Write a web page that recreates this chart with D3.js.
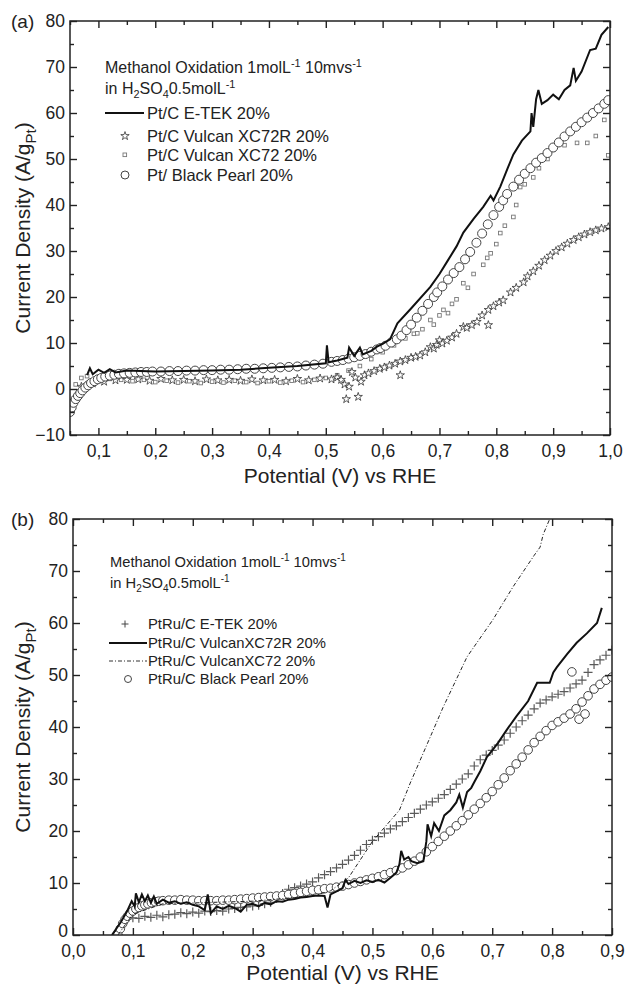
<!DOCTYPE html>
<html><head><meta charset="utf-8">
<script src="https://cdn.jsdelivr.net/npm/d3@7"></script>
<style>
body{margin:0;background:#fff;}
svg{font-family:"Liberation Sans",Arial,sans-serif;}
</style></head>
<body><svg id="c" width="628" height="986"></svg>
<script>
// ---------- Panel (a) data ----------
const aXTicks = [0.1,0.2,0.3,0.4,0.5,0.6,0.7,0.8,0.9,1.0];
const aYTicks = [-10,0,10,20,30,40,50,60,70,80];
const aLegend = ["Pt/C E-TEK 20%","Pt/C Vulcan XC72R 20%","Pt/C Vulcan XC72 20%","Pt/ Black Pearl 20%"];
const aEtekX = [0.08,0.085,0.09,0.10,0.11,0.12,0.13,0.15,0.2,0.25,0.3,0.35,0.4,0.45,0.5,0.502,0.505,0.52,0.538,0.541,0.55,0.56,0.565,0.58,0.59,0.6,0.613,0.626,0.65,0.684,0.7,0.714,0.73,0.742,0.76,0.777,0.79,0.795,0.807,0.82,0.83,0.845,0.86,0.862,0.865,0.87,0.874,0.88,0.89,0.9,0.91,0.92,0.93,0.936,0.94,0.95,0.965,0.975,0.985,0.997];
const aEtekY = [3.0,4.5,3.2,4.2,3.5,4.3,3.6,4.0,3.8,3.9,4.0,4.2,4.6,5.0,5.6,9.5,5.8,6.2,6.8,9.0,7.2,9.0,7.5,8.3,9.2,9.8,10.8,14.3,17.5,22.2,25.0,27.8,31.0,34.0,37.0,39.6,42.0,41.0,44.0,48.0,51.0,54.0,56.0,60.0,57.0,63.0,65.0,62.0,62.8,64.0,63.0,65.0,66.0,69.8,67.0,69.0,73.7,74.0,77.0,78.7];
const aXC72RX = [0.07,0.09,0.11,0.13,0.15,0.17,0.19,0.21,0.23,0.25,0.27,0.29,0.31,0.33,0.35,0.37,0.39,0.41,0.43,0.45,0.47,0.49,0.51,0.52,0.527,0.533,0.536,0.541,0.546,0.552,0.557,0.562,0.568,0.575,0.585,0.595,0.603,0.612,0.622,0.631,0.631,0.64,0.65,0.658,0.666,0.675,0.684,0.69,0.695,0.70,0.705,0.713,0.722,0.73,0.742,0.748,0.757,0.766,0.775,0.786,0.786,0.795,0.805,0.812,0.825,0.835,0.848,0.855,0.865,0.875,0.885,0.895,0.905,0.915,0.925,0.936,0.945,0.955,0.965,0.975,0.985,0.997];
const aXC72RY = [0.5,1.2,1.6,1.9,2.0,2.1,1.8,2.2,1.9,2.0,1.7,2.1,1.9,2.0,1.8,2.1,1.9,2.0,1.7,2.2,1.9,2.3,2.1,2.5,2.0,1.0,-2.2,0.5,3.7,2.5,-1.7,1.6,3.0,3.4,3.9,4.4,4.7,5.1,5.5,6.0,3.0,6.3,6.8,7.0,7.3,8.0,9.1,8.8,9.6,10.6,9.9,10.5,11.2,12.0,13.5,13.3,13.9,14.6,16.0,17.2,13.9,18.0,18.8,19.3,21.0,22.0,23.2,24.5,25.6,26.8,28.0,29.0,30.0,30.8,31.6,32.4,33.0,33.6,34.1,34.5,34.9,35.2];
const aXC72X = [0.06,0.07,0.08,0.1,0.12,0.14,0.16,0.18,0.2,0.22,0.24,0.26,0.28,0.3,0.32,0.34,0.36,0.38,0.4,0.42,0.44,0.46,0.48,0.5,0.52,0.54,0.56,0.58,0.6,0.62,0.64,0.655,0.661,0.67,0.684,0.69,0.70,0.707,0.715,0.722,0.73,0.742,0.75,0.76,0.777,0.784,0.79,0.8,0.807,0.815,0.83,0.835,0.842,0.85,0.865,0.875,0.89,0.9,0.92,0.942,0.96,0.975,0.99,0.997];
const aXC72Y = [1.0,2.4,2.8,2.6,2.2,2.0,1.7,2.0,1.5,1.8,1.4,1.7,1.3,1.6,1.4,1.8,1.5,1.3,1.7,1.4,1.8,1.5,2.0,2.4,3.0,4.0,5.0,6.5,8.0,9.5,11.0,12.0,12.1,13.0,15.0,14.0,16.0,17.2,16.5,18.5,19.5,23.0,22.0,25.0,27.0,28.5,29.5,31.5,33.9,35.5,37.4,40.0,43.9,44.5,46.0,48.0,50.0,52.0,53.0,53.5,53.5,55.0,58.5,50.8];
const aBPX = [0.050,0.053,0.056,0.060,0.064,0.068,0.072,0.077,0.082,0.087,0.093,0.099,0.105,0.112,0.12,0.128,0.136,0.145,0.155,0.165,0.175,0.185,0.195,0.21,0.225,0.24,0.255,0.27,0.285,0.3,0.315,0.33,0.345,0.36,0.375,0.39,0.405,0.42,0.435,0.45,0.465,0.48,0.495,0.51,0.52,0.53,0.54,0.55,0.56,0.57,0.58,0.59,0.596,0.605,0.615,0.625,0.633,0.642,0.65,0.66,0.67,0.68,0.69,0.696,0.705,0.715,0.725,0.735,0.745,0.754,0.765,0.775,0.785,0.795,0.805,0.812,0.819,0.83,0.84,0.85,0.86,0.87,0.88,0.89,0.9,0.91,0.92,0.93,0.94,0.95,0.96,0.97,0.98,0.99,0.997];
const aBPY = [-5.0,-4.0,-3.0,-2.2,-1.5,-0.9,-0.3,0.3,0.8,1.3,1.7,2.1,2.4,2.7,2.9,3.1,3.3,3.4,3.5,3.6,3.7,3.7,3.8,3.8,3.9,3.9,4.0,4.0,4.1,4.1,4.2,4.2,4.3,4.4,4.4,4.5,4.6,4.7,4.8,4.9,5.1,5.3,5.5,5.9,6.1,6.3,6.6,6.9,7.2,7.6,8.1,8.6,8.9,9.4,10.1,10.8,11.6,12.8,14.0,15.5,17.0,18.5,20.0,21.0,22.3,23.8,25.2,26.5,28.2,29.8,31.8,33.8,35.8,37.8,39.6,41.0,42.4,44.0,45.5,46.8,48.0,49.2,50.2,51.3,52.5,53.6,54.9,56.0,57.0,58.0,59.0,60.0,61.0,62.0,62.8];

// ---------- Panel (b) data ----------
const bXTicks = [0.0,0.1,0.2,0.3,0.4,0.5,0.6,0.7,0.8,0.9];
const bYTicks = [0,10,20,30,40,50,60,70,80];
const bLegend = ["PtRu/C E-TEK 20%","PtRu/C VulcanXC72R 20%","PtRu/C VulcanXC72 20%","PtRu/C Black Pearl 20%"];
const bEtekX = [0.09,0.1,0.11,0.12,0.13,0.14,0.15,0.16,0.17,0.18,0.19,0.2,0.21,0.22,0.23,0.24,0.25,0.26,0.27,0.28,0.29,0.3,0.31,0.32,0.33,0.34,0.35,0.36,0.37,0.38,0.39,0.4,0.41,0.42,0.43,0.44,0.45,0.46,0.47,0.48,0.49,0.5,0.51,0.52,0.53,0.54,0.55,0.56,0.57,0.58,0.59,0.6,0.61,0.62,0.63,0.64,0.65,0.66,0.67,0.68,0.69,0.7,0.71,0.72,0.73,0.74,0.75,0.76,0.77,0.78,0.79,0.8,0.81,0.82,0.83,0.84,0.85,0.86,0.87,0.88,0.89,0.9];
const bEtekY = [3.0,3.3,3.2,3.6,3.4,3.8,3.5,3.9,4.0,4.3,4.1,4.4,4.2,4.6,4.5,4.7,4.6,5.0,5.1,5.3,5.4,5.6,5.7,6.0,6.3,7.0,8.0,8.8,9.1,9.4,9.8,10.2,11.0,11.6,12.2,12.9,13.6,14.4,15.3,16.3,17.4,18.2,18.9,19.6,20.4,21.0,21.8,22.6,23.4,24.2,25.0,25.6,26.3,27.0,28.0,29.0,30.0,31.0,32.5,33.7,34.6,35.5,36.5,37.5,38.8,40.0,41.2,42.3,43.5,44.6,45.2,45.8,46.3,46.8,47.5,48.3,49.0,50.5,52.0,52.9,53.8,54.8];
const bXC72RX = [0.065,0.08,0.09,0.098,0.103,0.105,0.11,0.115,0.12,0.125,0.13,0.135,0.14,0.15,0.16,0.17,0.18,0.19,0.2,0.21,0.22,0.225,0.23,0.24,0.25,0.26,0.27,0.28,0.29,0.3,0.31,0.32,0.33,0.34,0.35,0.36,0.37,0.38,0.39,0.4,0.41,0.42,0.425,0.43,0.44,0.45,0.455,0.46,0.47,0.48,0.49,0.5,0.51,0.52,0.53,0.54,0.545,0.548,0.553,0.56,0.565,0.575,0.585,0.59,0.592,0.598,0.603,0.611,0.62,0.63,0.64,0.645,0.651,0.658,0.665,0.671,0.68,0.691,0.7,0.71,0.724,0.74,0.76,0.775,0.796,0.802,0.808,0.825,0.841,0.858,0.875,0.883];
const bXC72RY = [0,2.5,4.5,6.5,5.5,8.0,6.3,7.8,6.5,7.6,6.2,7.4,6.0,6.8,6.2,6.5,6.0,6.3,5.8,5.5,4.8,7.8,4.2,5.5,5.0,5.6,5.2,4.5,5.8,6.0,5.5,6.2,5.9,6.5,6.4,6.8,6.9,7.2,7.3,7.5,7.6,7.5,5.3,7.8,8.4,9.0,10.6,9.8,10.4,10.0,10.5,10.2,10.6,10.1,11.0,12.0,13.6,16.2,14.5,15.0,14.2,13.8,14.2,18.0,21.3,19.0,21.5,20.0,23.0,24.0,25.5,27.0,24.5,27.5,28.3,29.6,31.5,34.2,35.5,37.0,39.4,42.0,45.0,48.5,48.5,50.5,51.5,54.0,56.2,58.0,60.0,62.9];
const bXC72X = [0.075,0.1,0.15,0.3,0.4,0.43,0.46,0.5,0.545,0.563,0.6,0.618,0.658,0.701,0.735,0.77,0.78,0.785,0.796];
const bXC72Y = [0,4,6,6.5,7.5,8.5,11,18,24,29.2,39,43.8,53.5,60.6,67,73,74.6,77,80];
const bBPX = [0.075,0.079,0.083,0.087,0.091,0.095,0.1,0.105,0.11,0.115,0.12,0.125,0.131,0.137,0.143,0.15,0.16,0.17,0.18,0.19,0.2,0.21,0.22,0.23,0.24,0.25,0.26,0.27,0.28,0.29,0.3,0.31,0.32,0.33,0.34,0.35,0.36,0.37,0.38,0.39,0.4,0.41,0.42,0.43,0.44,0.45,0.46,0.47,0.48,0.49,0.5,0.51,0.52,0.53,0.54,0.55,0.56,0.57,0.58,0.59,0.6,0.61,0.62,0.63,0.64,0.65,0.66,0.67,0.68,0.69,0.7,0.71,0.72,0.73,0.74,0.75,0.76,0.77,0.78,0.79,0.8,0.81,0.82,0.83,0.84,0.845,0.85,0.855,0.86,0.87,0.88,0.89,0.9,0.833];
const bBPY = [0,1.2,2.2,3.0,3.6,4.2,4.6,5.0,5.3,5.6,5.8,6.0,6.2,6.4,6.5,6.6,6.7,6.7,6.8,6.7,6.7,6.6,6.6,6.6,6.6,6.7,6.7,6.8,6.9,7.0,7.1,7.2,7.3,7.4,7.5,7.6,7.8,8.0,8.2,8.4,8.6,8.7,8.9,9.0,9.2,9.4,9.7,10.0,10.3,10.6,10.9,11.2,11.6,12.0,12.4,12.9,13.5,14.2,15.0,16.0,17.0,18.0,19.0,20.0,21.0,22.0,23.1,24.2,25.3,26.4,27.6,28.9,30.2,31.6,32.9,34.2,35.6,37.0,38.2,39.3,40.3,41.0,41.7,42.5,43.5,41.5,44.8,42.5,46.0,47.3,48.2,49.0,49.6,50.6];

const zip = (xs, ys) => xs.map((x, i) => [x, ys[i]]);
const svg = d3.select("#c");
const fmt = v => d3.format(".1f")(v).replace(".", ",");
const FONT = '"Liberation Sans",Arial,sans-serif';

function plusPath(s){ return `M${-s},0H${s}M0,${-s}V${s}`; }

function panel(cfg){
  const g = svg.append("g");
  const x = d3.scaleLinear().domain(cfg.xDom).range([cfg.left, cfg.right]);
  const y = d3.scaleLinear().domain(cfg.yDom).range([cfg.bottom, cfg.top]);
  const xMinor = d3.range(cfg.xDom[0], cfg.xDom[1] + 1e-9, 0.05).map(v => +v.toFixed(3)).filter(v => !cfg.xTicks.some(t => Math.abs(t - v) < 1e-6));
  const yMinor = d3.range(cfg.yDom[0], cfg.yDom[1] + 1e-9, 5).filter(v => v % 10 !== 0);

  const clipId = "clip" + cfg.id;
  svg.append("clipPath").attr("id", clipId).append("rect")
    .attr("x", cfg.left).attr("y", cfg.top).attr("width", cfg.right - cfg.left).attr("height", cfg.bottom - cfg.top);
  const plot = g.append("g").attr("clip-path", `url(#${clipId})`);
  cfg.draw(plot, x, y);

  const axStyle = sel => { sel.select(".domain").remove(); sel.selectAll("line").attr("stroke", "#222").attr("stroke-width", 1.4);
    sel.selectAll("text").attr("font-size", 17.5).attr("fill", "#222").attr("font-family", FONT); };
  g.append("g").attr("transform", `translate(0,${cfg.bottom})`).call(d3.axisBottom(x).tickValues(cfg.xTicks).tickFormat(fmt).tickSize(-7).tickPadding(10)).call(axStyle);
  g.append("g").attr("transform", `translate(0,${cfg.bottom})`).call(d3.axisBottom(x).tickValues(xMinor).tickFormat("").tickSize(-4)).call(axStyle);
  g.append("g").attr("transform", `translate(0,${cfg.top})`).call(d3.axisTop(x).tickValues(cfg.xTicks).tickFormat("").tickSize(-7)).call(axStyle);
  g.append("g").attr("transform", `translate(0,${cfg.top})`).call(d3.axisTop(x).tickValues(xMinor).tickFormat("").tickSize(-4)).call(axStyle);
  const yl = g.append("g").attr("transform", `translate(${cfg.left},0)`).call(d3.axisLeft(y).tickValues(cfg.yTicks).tickFormat(d3.format("d")).tickSize(-7).tickPadding(5)).call(axStyle);
  if (cfg.liftZero) yl.selectAll(".tick text").filter(d => d === 0).attr("dy", "0.1em");
  g.append("g").attr("transform", `translate(${cfg.left},0)`).call(d3.axisLeft(y).tickValues(yMinor).tickFormat("").tickSize(-4)).call(axStyle);
  g.append("g").attr("transform", `translate(${cfg.right},0)`).call(d3.axisRight(y).tickValues(cfg.yTicks).tickFormat("").tickSize(-7)).call(axStyle);
  g.append("g").attr("transform", `translate(${cfg.right},0)`).call(d3.axisRight(y).tickValues(yMinor).tickFormat("").tickSize(-4)).call(axStyle);
  g.append("rect").attr("x", cfg.left).attr("y", cfg.top).attr("width", cfg.right - cfg.left).attr("height", cfg.bottom - cfg.top)
    .attr("fill", "none").attr("stroke", "#222").attr("stroke-width", 1.5);

  g.append("text").attr("x", 11).attr("y", cfg.top + 7).attr("font-size", 19).attr("fill", "#222").text(cfg.tag);
  g.append("text").attr("x", (cfg.left + cfg.right) / 2).attr("y", cfg.bottom + cfg.titleOff).attr("text-anchor", "middle")
    .attr("font-size", 21).attr("fill", "#222").text("Potential (V) vs RHE");
  const yt = g.append("text").attr("transform", `translate(30,${(cfg.top + cfg.bottom) / 2}) rotate(-90)`)
    .attr("text-anchor", "middle").attr("font-size", 21).attr("fill", "#222");
  yt.append("tspan").text("Current Density (A/g");
  yt.append("tspan").attr("dy", 6).attr("font-size", 15).text("Pt");
  yt.append("tspan").attr("dy", -6).text(")");

  const h = cfg.header;
  const t1 = g.append("text").attr("x", h.x).attr("y", h.y1).attr("font-size", h.fs).attr("fill", "#222");
  t1.append("tspan").text("Methanol Oxidation 1molL");
  t1.append("tspan").attr("dy", -6).attr("font-size", h.fs * 0.68).text("-1");
  t1.append("tspan").attr("dy", 6).text(" 10mvs");
  t1.append("tspan").attr("dy", -6).attr("font-size", h.fs * 0.68).text("-1");
  const t2 = g.append("text").attr("x", h.x).attr("y", h.y2).attr("font-size", h.fs).attr("fill", "#222");
  t2.append("tspan").text("in H");
  t2.append("tspan").attr("dy", 4).attr("font-size", h.fs * 0.68).text("2");
  t2.append("tspan").attr("dy", -4).text("SO");
  t2.append("tspan").attr("dy", 4).attr("font-size", h.fs * 0.68).text("4");
  t2.append("tspan").attr("dy", -4).text("0.5molL");
  t2.append("tspan").attr("dy", -6).attr("font-size", h.fs * 0.68).text("-1");

  cfg.legend(g);
}

// ---- Panel (a) ----
panel({
  id: "a", tag: "(a)", left: 70, right: 610, top: 21, bottom: 435, titleOff: 48,
  xDom: [0.05, 1.0], yDom: [-10, 80], xTicks: aXTicks, yTicks: aYTicks,
  header: {x: 105, y1: 73, y2: 94, fs: 16},
  draw: (p, x, y) => {
    p.selectAll(".sq").data(zip(aXC72X, aXC72Y)).join("rect").attr("x", d => x(d[0]) - 1.8).attr("y", d => y(d[1]) - 1.8)
      .attr("width", 3.6).attr("height", 3.6).attr("fill", "white").attr("stroke", "#777").attr("stroke-width", 0.9);
    p.selectAll(".st").data(zip(aXC72RX, aXC72RY)).join("path").attr("transform", d => `translate(${x(d[0])},${y(d[1])})`)
      .attr("d", d3.symbol(d3.symbolStar, 22)()).attr("fill", "white").attr("stroke", "#333").attr("stroke-width", 0.8);
    p.selectAll(".ci").data(zip(aBPX, aBPY)).join("circle").attr("cx", d => x(d[0])).attr("cy", d => y(d[1])).attr("r", 4.5)
      .attr("fill", "white").attr("stroke", "#444").attr("stroke-width", 1);
    p.append("path").datum(zip(aEtekX, aEtekY)).attr("d", d3.line().x(d => x(d[0])).y(d => y(d[1])))
      .attr("fill", "none").attr("stroke", "#111").attr("stroke-width", 2);
  },
  legend: g => {
    const tx = 147, ys = [119, 142, 161, 181];
    g.append("line").attr("x1", 105).attr("x2", 144).attr("y1", ys[0] - 6).attr("y2", ys[0] - 6).attr("stroke", "#111").attr("stroke-width", 2);
    g.append("path").attr("transform", `translate(125,${ys[1] - 6})`).attr("d", d3.symbol(d3.symbolStar, 22)()).attr("fill", "white").attr("stroke", "#333").attr("stroke-width", 0.8);
    g.append("rect").attr("x", 123).attr("y", ys[2] - 8).attr("width", 3.6).attr("height", 3.6).attr("fill", "white").attr("stroke", "#777").attr("stroke-width", 0.9);
    g.append("circle").attr("cx", 125).attr("cy", ys[3] - 6).attr("r", 4).attr("fill", "white").attr("stroke", "#444").attr("stroke-width", 1);
    aLegend.forEach((s, i) => g.append("text").attr("x", tx).attr("y", ys[i]).attr("font-size", 16.5).attr("fill", "#222").text(s));
  }
});

// ---- Panel (b) ----
panel({
  id: "b", tag: "(b)", left: 73, right: 612, top: 519, bottom: 935, titleOff: 45, liftZero: true,
  xDom: [0.0, 0.9], yDom: [0, 80], xTicks: bXTicks, yTicks: bYTicks,
  header: {x: 110, y1: 567, y2: 588, fs: 14.7},
  draw: (p, x, y) => {
    p.selectAll(".pl").data(zip(bEtekX, bEtekY)).join("path").attr("transform", d => `translate(${x(d[0])},${y(d[1])})`)
      .attr("d", plusPath(4.5)).attr("stroke", "#5a5a5a").attr("stroke-width", 1.2).attr("fill", "none");
    p.selectAll(".ci").data(zip(bBPX, bBPY)).join("circle").attr("cx", d => x(d[0])).attr("cy", d => y(d[1])).attr("r", 4.3)
      .attr("fill", "white").attr("stroke", "#444").attr("stroke-width", 1);
    p.append("path").datum(zip(bXC72X, bXC72Y)).attr("d", d3.line().x(d => x(d[0])).y(d => y(d[1])))
      .attr("fill", "none").attr("stroke", "#222").attr("stroke-width", 1).attr("stroke-dasharray", "4,2,1,2");
    p.append("path").datum(zip(bXC72RX, bXC72RY)).attr("d", d3.line().x(d => x(d[0])).y(d => y(d[1])))
      .attr("fill", "none").attr("stroke", "#111").attr("stroke-width", 2);
  },
  legend: g => {
    const tx = 148, ys = [629, 648, 666, 684];
    g.append("path").attr("transform", `translate(125,${ys[0] - 5})`).attr("d", plusPath(3.5)).attr("stroke", "#444").attr("stroke-width", 1);
    g.append("line").attr("x1", 109).attr("x2", 147).attr("y1", ys[1] - 5).attr("y2", ys[1] - 5).attr("stroke", "#111").attr("stroke-width", 2);
    g.append("line").attr("x1", 109).attr("x2", 147).attr("y1", ys[2] - 5).attr("y2", ys[2] - 5).attr("stroke", "#333").attr("stroke-width", 1).attr("stroke-dasharray", "4,2,1,2");
    g.append("circle").attr("cx", 128).attr("cy", ys[3] - 5).attr("r", 3.5).attr("fill", "white").attr("stroke", "#444").attr("stroke-width", 1);
    bLegend.forEach((s, i) => g.append("text").attr("x", tx).attr("y", ys[i]).attr("font-size", 14.8).attr("fill", "#222").text(s));
  }
});
</script></body></html>
